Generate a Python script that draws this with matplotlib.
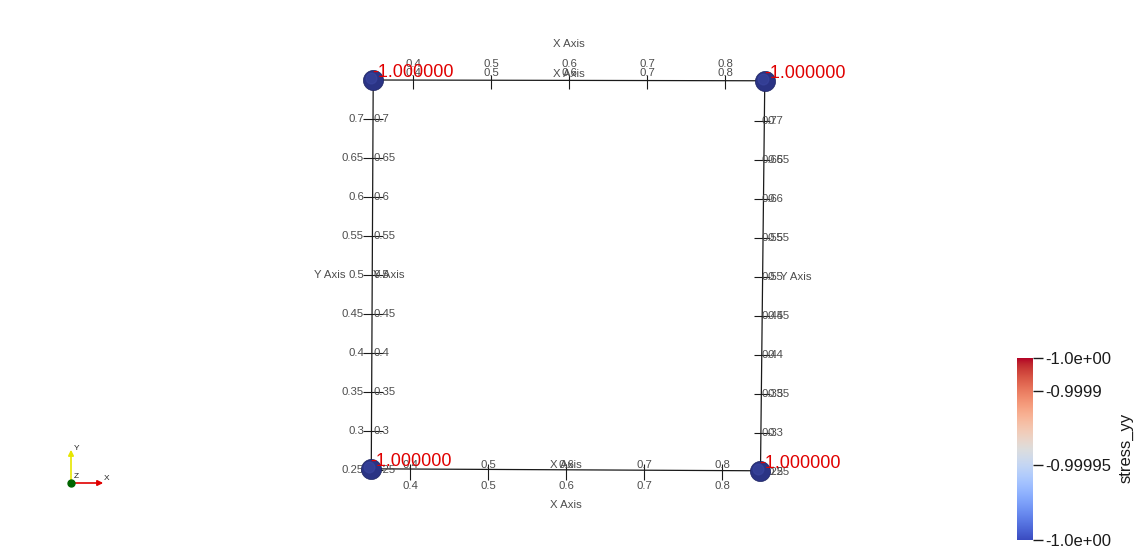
import matplotlib
matplotlib.use('Agg')
import matplotlib.pyplot as plt
import matplotlib.transforms as mtransforms
import numpy as np

plt.rcParams['font.family'] = ['Liberation Sans', 'DejaVu Sans']

# mesh corners (x, y) and the stress_yy value at each node
corner_x = [0.349, 0.851, 0.8455, 0.3465]
corner_y = [0.750, 0.749, 0.249, 0.2515]
corner_val = [-1.0, -1.0, -1.0, -1.0]

# grid axes ticks
x_ticks = [0.4, 0.5, 0.6, 0.7, 0.8]
y_ticks = [0.25, 0.3, 0.35, 0.4, 0.45, 0.5, 0.55, 0.6, 0.65, 0.7]

# colour legend
cb_min, cb_max = -1.0000, -0.999878
cb_ticks = [-1.0000, -0.99995, -0.9999, -0.999878]
cb_labels = ['-1.0e+00', '-0.99995', '-0.9999', '-1.0e+00']
cb_title = 'stress_yy'

W, H = 1138, 552
fig = plt.figure(figsize=(W / 100, H / 100), dpi=100)
ax = fig.add_axes([374 / W, 82 / H, 390 / W, 390 / H])
ax.set_xlim(0.35, 0.85)
ax.set_ylim(0.25, 0.75)
ax.axis('off')

gray = '#4d4d4d'
fs = 8.2

def off(dx, dy):
    return mtransforms.offset_copy(ax.transData, fig=fig, x=dx, y=dy, units='dots')

# mesh outline
ax.plot(corner_x + corner_x[:1], corner_y + corner_y[:1], color='#1a1a1a', lw=0.9, clip_on=False, zorder=2)

# top x axis
top = 0.75
ax.plot(x_ticks, [top] * len(x_ticks), ls='none', marker='|', ms=10, mew=0.8, color='#1a1a1a',
        clip_on=False, transform=off(0, -2))
for v in x_ticks:
    ax.text(v, top, f'{v:g}', transform=off(0, 16), ha='center', va='center', fontsize=fs, color=gray)
    ax.text(v, top, f'{v:g}', transform=off(0, 7.5), ha='center', va='center', fontsize=fs, color=gray)
ax.text(0.6, top, 'X Axis', transform=off(0, 36), ha='center', va='center', fontsize=fs, color=gray)
ax.text(0.6, top, 'X Axis', transform=off(0, 6), ha='center', va='center', fontsize=fs, color=gray)

# bottom x axis (slightly shifted in the render)
bot = 0.25
ax.plot(x_ticks, [bot] * len(x_ticks), ls='none', marker='|', ms=12, mew=0.8, color='#1a1a1a',
        clip_on=False, transform=off(-3, -2))
for v in x_ticks:
    ax.text(v, bot, f'{v:g}', transform=off(-3, 5), ha='center', va='center', fontsize=fs, color=gray)
    ax.text(v, bot, f'{v:g}', transform=off(-3, -16), ha='center', va='center', fontsize=fs, color=gray)
ax.text(0.6, bot, 'X Axis', transform=off(-3, -35), ha='center', va='center', fontsize=fs, color=gray)
ax.text(0.6, bot, 'X Axis', transform=off(-3, 5), ha='center', va='center', fontsize=fs, color=gray)

# left y axis
lx = 0.35
ax.plot([lx] * len(y_ticks), y_ticks, ls='none', marker='_', ms=14, mew=0.8, color='#1a1a1a',
        clip_on=False, transform=off(-1, 0))
for v in y_ticks:
    ax.text(lx, v, f'{v:g}', transform=off(-10, 0), ha='right', va='center', fontsize=fs, color=gray)
    ax.text(lx, v, f'{v:g}', transform=off(-1, 0), ha='left', va='center', fontsize=fs, color=gray)
ax.text(lx, 0.5, 'Y Axis', transform=off(-29, 0), ha='right', va='center', fontsize=fs, color=gray)
ax.text(lx, 0.5, 'Y Axis', transform=off(-1, 0), ha='left', va='center', fontsize=fs, color=gray)

# right y axis
rx = 0.85
ax.plot([rx] * len(y_ticks), y_ticks, ls='none', marker='_', ms=11, mew=0.8, color='#1a1a1a',
        clip_on=False, transform=off(-2.5, -2))
for v in y_ticks:
    ax.text(rx, v, f'{v:g}', transform=off(-2, -2), ha='left', va='center', fontsize=fs, color=gray)
    ax.text(rx, v, f'{v:g}', transform=off(3, -2), ha='left', va='center', fontsize=fs, color=gray)
ax.text(rx, 0.5, 'Y Axis', transform=off(16, -2), ha='left', va='center', fontsize=fs, color=gray)

# nodes as spheres with point labels
ax.scatter(corner_x, corner_y, s=210, color='#2a3384', edgecolors='#1c2260', linewidths=0.5,
           zorder=5, clip_on=False)
ax.scatter(corner_x, corner_y, s=60, color='#3a46a0', alpha=0.6, zorder=5, clip_on=False,
           transform=off(-2, 2))
for x, y, v in zip(corner_x, corner_y, corner_val):
    ax.text(x, y, f'{v:.6f}', transform=off(-1, 3), ha='left', va='baseline',
            fontsize=13, color='#e00000', zorder=6)

# colour legend
cax = fig.add_axes([1017 / W, 12 / H, 16 / W, 182 / H])
grad = np.linspace(cb_min, cb_max, 256).reshape(-1, 1)
cax.imshow(grad, aspect='auto', cmap='coolwarm', origin='lower',
           extent=[0, 1, cb_min, cb_max], vmin=cb_min, vmax=cb_max)
cax.set_xticks([])
cax.yaxis.tick_right()
cax.set_yticks(cb_ticks)
cax.set_yticklabels(cb_labels, fontsize=12, color='#1a1a1a')
cax.tick_params(axis='y', length=7, width=1, pad=2, colors='#1a1a1a')
for s in cax.spines.values():
    s.set_visible(False)
fig.text(1126 / W, 1 - 448 / H, cb_title, rotation=90, ha='center', va='center',
         fontsize=12, color='#1a1a1a')

# orientation triad
tax = fig.add_axes([50 / W, (552 - 500) / H, 70 / W, 70 / H])
tax.set_xlim(0, 70)
tax.set_ylim(0, 70)
tax.axis('off')
tax.annotate('', xy=(21, 53), xytext=(21, 17),
             arrowprops=dict(arrowstyle='-|>', color='#e6e600', lw=1.2, mutation_scale=8))
tax.annotate('', xy=(56, 17), xytext=(21, 17),
             arrowprops=dict(arrowstyle='-|>', color='#e00000', lw=1.2, mutation_scale=8))
tax.scatter([21], [17], s=25, color='#006400', zorder=4)
tax.text(24, 52, 'Y', fontsize=6, color='#222222', va='center')
tax.text(24, 23, 'Z', fontsize=6, color='#222222', va='center')
tax.text(54, 21, 'X', fontsize=6, color='#222222', va='center')

fig.savefig('out.png', dpi=100)
